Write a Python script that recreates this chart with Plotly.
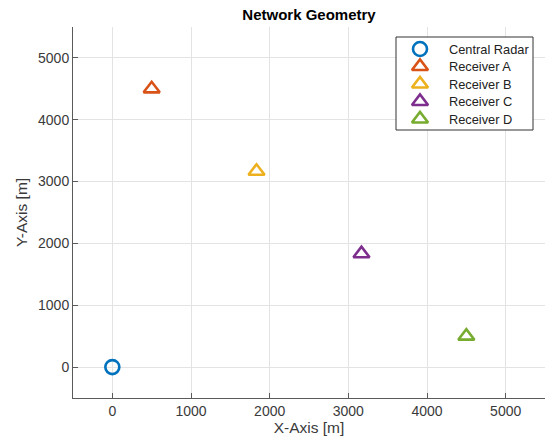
import plotly.graph_objects as go

# Station names and positions (metres)
names = ["Central Radar", "Receiver A", "Receiver B", "Receiver C", "Receiver D"]
x_pos = [0, 500, 1833, 3167, 4500]
y_pos = [0, 4500, 3167, 1833, 500]
symbols = ["circle-open", "triangle-up-open", "triangle-up-open", "triangle-up-open", "triangle-up-open"]
colors = ["#0072BD", "#D95319", "#EDB120", "#7E2F8E", "#77AC30"]

tick_vals = [0, 1000, 2000, 3000, 4000, 5000]

W, H = 548, 443
M_L, M_R, M_T, M_B = 73, 3, 27, 45

# Legend box layout in pixel space (overlay axis measured in pixels)
LEG_LEFT, LEG_RIGHT, LEG_TOP, LEG_BOTTOM = 396, 533, 37, 130
LEG_SYMBOL_X, LEG_TEXT_X = 420, 447
LEG_ROW0, LEG_ROW_STEP = 49, 17.5

fig = go.Figure()
for n, x, y, s, c in zip(names, x_pos, y_pos, symbols, colors):
    fig.add_trace(go.Scatter(
        x=[x], y=[y], mode="markers", name=n, showlegend=False,
        marker=dict(symbol=s, size=14, color=c, line=dict(width=2.6, color=c)),
    ))

# Legend: white framed box, then one symbol + label per station
fig.add_trace(go.Scatter(
    x=[LEG_LEFT, LEG_RIGHT, LEG_RIGHT, LEG_LEFT, LEG_LEFT],
    y=[LEG_TOP, LEG_TOP, LEG_BOTTOM, LEG_BOTTOM, LEG_TOP],
    xaxis="x2", yaxis="y2", mode="lines", fill="toself", fillcolor="white",
    line=dict(color="#333333", width=1), showlegend=False, hoverinfo="skip",
))
for i, (n, s, c) in enumerate(zip(names, symbols, colors)):
    row_y = LEG_ROW0 + i * LEG_ROW_STEP
    fig.add_trace(go.Scatter(
        x=[LEG_SYMBOL_X], y=[row_y], xaxis="x2", yaxis="y2", mode="markers",
        showlegend=False, hoverinfo="skip",
        marker=dict(symbol=s, size=14, color=c, line=dict(width=2.6, color=c)),
    ))
    fig.add_annotation(x=LEG_TEXT_X, y=row_y, xref="x2", yref="y2", text=n,
                       showarrow=False, xanchor="left", yanchor="middle",
                       font=dict(size=12.8, color="#222222"))

axis_common = dict(
    showgrid=True, gridcolor="#e3e3e3", gridwidth=1,
    zeroline=False, showline=True, linecolor="#5a5a5a", linewidth=1,
    ticks="inside", ticklen=5, tickcolor="#5a5a5a",
    tickvals=tick_vals, tickfont=dict(size=14, color="#3a3a3a"),
    title_font=dict(size=15.5, color="#3a3a3a"),
    mirror=False,
)

fig.update_layout(
    width=W, height=H,
    margin=dict(l=M_L, r=M_R, t=M_T, b=M_B),
    paper_bgcolor="white", plot_bgcolor="white",
    font=dict(family="Liberation Sans, Arial, sans-serif"),
    title=dict(text="<b>Network Geometry</b>", x=0.5, xref="paper", xanchor="center",
               y=1 - 14.5 / H, yanchor="middle", font=dict(size=15, color="black")),
    xaxis=dict(range=[-500, 5500], title=dict(text="X-Axis [m]", standoff=3), **axis_common),
    yaxis=dict(range=[-500, 5500], title=dict(text="Y-Axis [m]", standoff=6), **axis_common),
    xaxis2=dict(overlaying="x", range=[M_L, W - M_R], visible=False, fixedrange=True),
    yaxis2=dict(overlaying="y", range=[H - M_B, M_T], visible=False, fixedrange=True),
    showlegend=False,
)

fig.write_html("out.html")
